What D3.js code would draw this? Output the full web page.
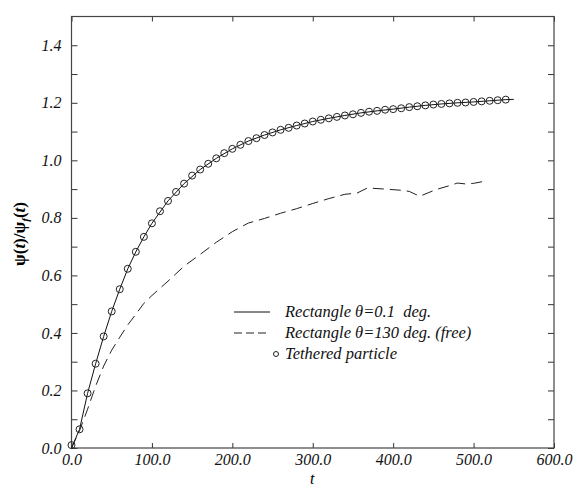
<!DOCTYPE html>
<html>
<head>
<meta charset="utf-8">
<script src="https://cdnjs.cloudflare.com/ajax/libs/d3/7.8.5/d3.min.js"></script>
<style>
  body { margin: 0; background: #fff; }
</style>
</head>
<body>
<svg id="chart" width="577" height="493"></svg>
<script>
// data
var tTether = [0, 10, 20, 30, 40, 50, 60, 70, 80, 90, 100, 110, 120, 130, 140, 150, 160, 170, 180, 190,
  200, 210, 220, 230, 240, 250, 260, 270, 280, 290, 300, 310, 320, 330, 340, 350, 360, 370, 380, 390,
  400, 410, 420, 430, 440, 450, 460, 470, 480, 490, 500, 510, 520, 530, 540];
var psiTether = [0.010, 0.065, 0.190, 0.293, 0.388, 0.475, 0.552, 0.623, 0.682, 0.734, 0.781, 0.823, 0.859,
  0.890, 0.919, 0.947, 0.968, 0.988, 1.007, 1.025, 1.040, 1.054, 1.067, 1.077, 1.088, 1.097, 1.106, 1.113,
  1.121, 1.128, 1.135, 1.141, 1.146, 1.151, 1.156, 1.160, 1.165, 1.169, 1.172, 1.176, 1.178, 1.181, 1.185,
  1.188, 1.191, 1.194, 1.196, 1.198, 1.200, 1.201, 1.203, 1.205, 1.207, 1.209, 1.211];

var tRect01 = [0, 10, 20, 30, 40, 50, 60, 70, 80, 90, 100, 120, 140, 160, 180, 200, 220, 240, 260, 280,
  300, 320, 340, 360, 380, 400, 420, 440, 460, 480, 500, 520, 540, 550];
var psiRect01 = [0.0, 0.065, 0.190, 0.293, 0.388, 0.475, 0.552, 0.623, 0.682, 0.734, 0.781, 0.859, 0.919,
  0.968, 1.007, 1.040, 1.067, 1.088, 1.106, 1.121, 1.135, 1.146, 1.156, 1.165, 1.172, 1.178, 1.185, 1.191,
  1.196, 1.200, 1.203, 1.207, 1.211, 1.212];

var tRect130 = [0, 10, 20, 30, 40, 50, 60, 70, 80, 90, 100, 120, 140, 160, 180, 200, 220, 240, 260, 280,
  300, 320, 340, 355, 368, 390, 410, 420, 433, 453, 470, 480, 490, 500, 515];
var psiRect130 = [0.0, 0.060, 0.135, 0.215, 0.285, 0.340, 0.385, 0.428, 0.465, 0.503, 0.530, 0.580, 0.632,
  0.673, 0.715, 0.752, 0.782, 0.798, 0.816, 0.832, 0.850, 0.867, 0.882, 0.886, 0.904, 0.900, 0.896, 0.892,
  0.875, 0.898, 0.912, 0.921, 0.918, 0.920, 0.928];

var xTicks = [0, 100, 200, 300, 400, 500, 600];
var yTicks = [0, 0.2, 0.4, 0.6, 0.8, 1.0, 1.2, 1.4];
var yMinor = [0.1, 0.3, 0.5, 0.7, 0.9, 1.1, 1.3];
var legendLabels = ["Rectangle \u03b8=0.1  deg.", "Rectangle \u03b8=130 deg. (free)", "Tethered particle"];

var SERIF = '"Liberation Serif", "Times New Roman", Tinos, "DejaVu Serif", serif';
var L = 71.5, R = 554, T = 16.5, B = 448;

var svg = d3.select('#chart');

var x = d3.scaleLinear().domain([0, 600]).range([L, R]);
var y = d3.scaleLinear().domain([0, 1.5]).range([B, T]);
var fmt = d3.format('.1f');

function styleAxis(g) {
  g.attr('font-family', SERIF);
  g.select('.domain').remove();
  g.selectAll('.tick line').attr('stroke', '#333').attr('stroke-width', 1);
  g.selectAll('.tick text')
    .attr('fill', '#111')
    .attr('font-family', SERIF)
    .attr('font-size', 16)
    .attr('font-style', 'italic');
}

// bottom + top
svg.append('g')
  .attr('transform', 'translate(0,' + B + ')')
  .call(d3.axisBottom(x).tickValues(xTicks).tickSize(-5).tickPadding(6).tickFormat(fmt))
  .call(styleAxis);
svg.append('g')
  .attr('transform', 'translate(0,' + T + ')')
  .call(d3.axisTop(x).tickValues(xTicks).tickSize(-5).tickFormat(''))
  .call(styleAxis);

// left + right
svg.append('g')
  .attr('transform', 'translate(' + L + ',0)')
  .call(d3.axisLeft(y).tickValues(yTicks).tickSize(-6).tickPadding(10).tickFormat(fmt))
  .call(styleAxis);
svg.append('g')
  .attr('transform', 'translate(' + L + ',0)')
  .call(d3.axisLeft(y).tickValues(yMinor).tickSize(-6).tickFormat(''))
  .call(styleAxis);
svg.append('g')
  .attr('transform', 'translate(' + R + ',0)')
  .call(d3.axisRight(y).tickValues(yTicks.concat(yMinor)).tickSize(-6).tickFormat(''))
  .call(styleAxis);

svg.append('rect')
  .attr('x', L).attr('y', T)
  .attr('width', R - L).attr('height', B - T)
  .attr('fill', 'none')
  .attr('stroke', '#444')
  .attr('stroke-width', 1.2);

// curves
var line = d3.line()
  .x(function(d) { return x(d[0]); })
  .y(function(d) { return y(d[1]); });

svg.append('path')
  .datum(d3.zip(tRect01, psiRect01))
  .attr('d', line)
  .attr('fill', 'none')
  .attr('stroke', '#111')
  .attr('stroke-width', 1);

svg.append('path')
  .datum(d3.zip(tRect130, psiRect130))
  .attr('d', line)
  .attr('fill', 'none')
  .attr('stroke', '#222')
  .attr('stroke-width', 1)
  .attr('stroke-dasharray', '11,6');

svg.append('g')
  .selectAll('circle')
  .data(d3.zip(tTether, psiTether))
  .enter()
  .append('circle')
  .attr('cx', function(d) { return x(d[0]); })
  .attr('cy', function(d) { return y(d[1]); })
  .attr('r', 3.5)
  .attr('fill', 'none')
  .attr('stroke', '#222')
  .attr('stroke-width', 1);

// legend
var lg = svg.append('g').attr('font-family', SERIF);
var rowY = [312, 333, 354];
lg.append('line').attr('x1', 234).attr('x2', 270).attr('y1', rowY[0]).attr('y2', rowY[0])
  .attr('stroke', '#111').attr('stroke-width', 1);
lg.append('line').attr('x1', 234).attr('x2', 266).attr('y1', rowY[1]).attr('y2', rowY[1])
  .attr('stroke', '#222').attr('stroke-width', 1).attr('stroke-dasharray', '8,4');
lg.append('circle').attr('cx', 276).attr('cy', rowY[2]).attr('r', 2.5)
  .attr('fill', 'none').attr('stroke', '#222').attr('stroke-width', 1);
lg.selectAll('text.lab')
  .data(legendLabels)
  .enter()
  .append('text')
  .attr('class', 'lab')
  .attr('x', 285)
  .attr('y', function(d, i) { return rowY[i] + 5; })
  .attr('font-size', 16.5)
  .attr('font-style', 'italic')
  .style('white-space', 'pre')
  .attr('fill', '#111')
  .text(function(d) { return d; });

// axis titles
svg.append('text')
  .attr('x', (L + R) / 2 - 0.5)
  .attr('y', 484)
  .attr('text-anchor', 'middle')
  .attr('font-family', SERIF)
  .attr('font-size', 16)
  .attr('font-style', 'italic')
  .text('t');

var yl = svg.append('text')
  .attr('transform', 'translate(25,234) rotate(-90)')
  .attr('text-anchor', 'middle')
  .attr('font-family', SERIF)
  .attr('font-size', 17)
  .attr('font-weight', 'bold');
yl.append('tspan').text('\u03c8(');
yl.append('tspan').attr('font-style', 'italic').text('t');
yl.append('tspan').text(')/\u03c8');
yl.append('tspan').attr('font-style', 'italic').attr('font-size', 11).attr('dy', 4).text('f');
yl.append('tspan').attr('dy', -4).text('(');
yl.append('tspan').attr('font-style', 'italic').text('t');
yl.append('tspan').text(')');
</script>
</body>
</html>
